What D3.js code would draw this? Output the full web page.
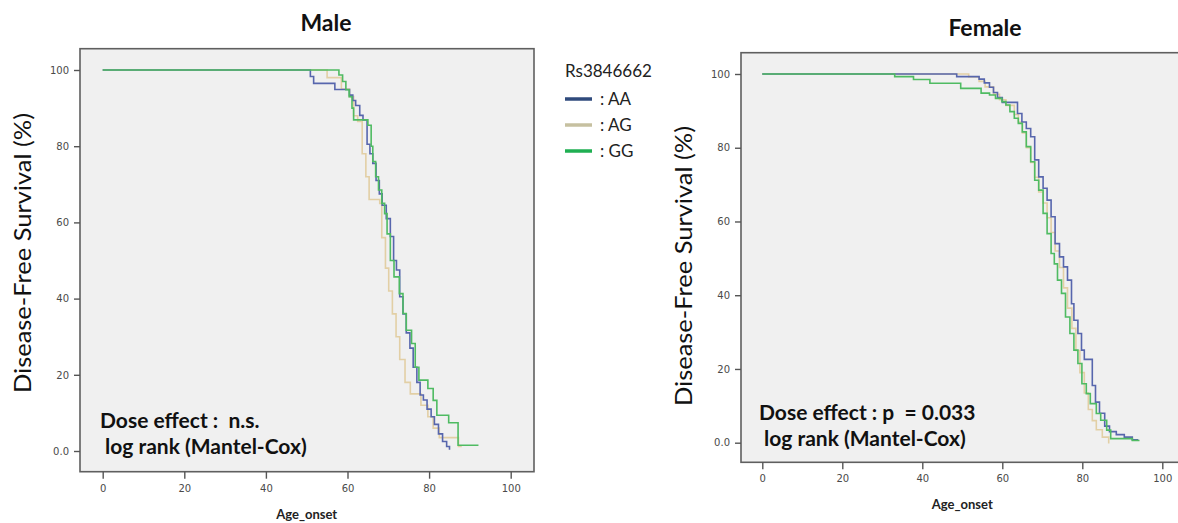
<!DOCTYPE html>
<html>
<head>
<meta charset="utf-8">
<script src="https://cdn.jsdelivr.net/npm/d3@7"></script>
<style>
  body { margin: 0; background: #fff; }
  svg { display: block; font-family: Lato, "Open Sans", sans-serif; }
</style>
</head>
<body>
<svg id="chart" width="1178" height="523"></svg>
<script>
// Kaplan-Meier steps: [age, survival %] (last point = last censored age)
const maleAA = [[0,100],[50.9,98.3],[51.7,96.5],[56.9,94.9],[60.5,93.4],[61.3,92],[62.0,90.7],[63.0,88.1],[63.8,86.9],
  [64.8,80.5],[65.5,78],[66.2,75.5],[67.0,71],[67.8,67.5],[68.5,64.5],[69.5,61],[70.5,56.3],[71.3,50],[72.0,47.5],
  [72.8,40.5],[73.6,36],[74.4,31],[75.3,27],[76.1,22],[77.0,18],[77.8,14.7],[78.6,13.4],[79.5,11],[80.5,9],
  [81.3,7],[82.3,4.5],[83.3,2.5],[84.3,1.2],[85.0,0.3]];
const maleAG = [[0,100],[55.0,98],[58.5,95],[60.5,93],[61.5,88],[62.5,86.5],[63.6,78],[64.5,72],[65.3,66],[67.9,65],
  [68.4,56],[69.3,48],[70.1,42],[71.0,36],[71.9,30],[72.8,24],[74.1,18],[75.4,15],[78.0,12],[79.7,9],[81.0,6],
  [82.5,3.5],[87.2,1.2],[88.0,1.2]];
const maleGG = [[0,100],[57.9,98.7],[58.8,97],[59.6,94.8],[60.4,93],[61.1,90],[61.5,86.9],[65.0,85.5],[65.8,80],
  [66.2,76],[66.9,72],[67.6,68.5],[68.4,65],[69.1,62.3],[69.7,57],[70.5,50],[71.4,45.7],[72.7,41.3],[73.6,36.1],
  [74.4,31.7],[75.7,28.2],[76.6,22],[77.5,18.6],[79.7,16.4],[81.0,13.3],[81.9,9.4],[84.8,7.4],[87.1,1.5],[92.1,1.5]];

const femaleAA = [[0,100],[48.6,99.3],[54.2,98.6],[55.5,97.6],[56.8,96.4],[57.8,95],[58.8,93.6],[60.0,92.3],[63.8,89.3],
  [64.9,87],[66.0,85.2],[67.1,83],[68.1,76.7],[69.1,72.1],[70.2,69],[71.2,65.8],[72.2,61.3],[73.2,54],[74.3,50.4],
  [75.3,47.7],[76.3,44.1],[77.3,37.7],[77.9,33.2],[78.9,29.6],[79.8,25.1],[80.5,22.6],[82.5,15.5],[83.3,11],
  [84.3,8],[85.6,4.5],[86.8,3],[88.5,2.2],[90.5,1.5],[92.5,0.8],[94.0,0.8]];
const femaleAG = [[0,100],[51.6,99.2],[54.2,98],[55.7,96.5],[57.8,94.5],[59.3,93],[60.9,91.5],[63.0,89],[64.0,87],
  [65.0,84],[66.0,80],[67.1,76],[68.1,72],[69.1,68],[70.2,65],[71.2,61],[72.2,57],[73.2,52],[74.3,47.5],[75.3,42],
  [76.3,36.5],[77.4,31],[78.4,25],[79.4,19],[80.5,13.5],[81.5,9],[82.5,6],[83.5,3.5],[85.0,1.5],[86.6,0],[86.8,0]];
const femaleGG = [[0,100],[33.1,99.3],[37.8,98.5],[41.9,97.5],[49.6,96.1],[54.7,94.8],[56.8,94.3],[58.3,93.4],
  [59.9,92.5],[60.9,91.6],[61.9,89.8],[63.0,88],[64.0,86.6],[65.0,84.3],[66.0,80.3],[67.1,76.2],[68.1,71.2],
  [69.1,68.5],[70.2,62.2],[71.2,56.7],[72.2,51.3],[73.0,48.5],[73.8,44.1],[74.8,40.5],[75.8,34.1],[76.9,29.6],
  [77.9,25.1],[78.9,21.5],[79.9,16],[81.0,13.3],[82.0,10.6],[83.5,7.9],[84.6,6.1],[86.1,3.4],[87.1,1.1],
  [92.5,0.6],[94.3,0.6]];

const genotypes = ["AA", "AG", "GG"];
const lineColors = ["#5766ad", "#e2cfa5", "#4fbb62"];
const legendColors = ["#2f4a7c", "#c6c0a0", "#1faf52"];
const xTicks = [0, 20, 40, 60, 80, 100];
const yTicks = [0, 20, 40, 60, 80, 100];
const yTickLabels = ["0.0", "20", "40", "60", "80", "100"];

const svg = d3.select("#chart");

const panels = [
  { title: "Male", series: [maleAA, maleAG, maleGG],
    xr: [102.7, 510.7], yr: [451, 70], box: [80, 48.7, 534, 471.7],
    titleX: 326, titleY: 31, ylabX: 22, ylabY: 253, xlabY: 519,
    note: ["Dose effect :  n.s.", " log rank (Mantel-Cox)"], noteX: 100, noteY: 428 },
  { title: "Female", series: [femaleAA, femaleAG, femaleGG],
    xr: [762.3, 1162.3], yr: [442.7, 74], box: [741, 52.7, 1186, 462.3],
    titleX: 985, titleY: 36, ylabX: 683, ylabY: 266, xlabY: 509,
    note: ["Dose effect : p  = 0.033", " log rank (Mantel-Cox)"], noteX: 759, noteY: 420 }
];

panels.forEach(p => {
  const x = d3.scaleLinear().domain([0, 100]).range(p.xr);
  const y = d3.scaleLinear().domain([0, 100]).range(p.yr);
  const g = svg.append("g");

  g.append("rect")
    .attr("x", p.box[0]).attr("y", p.box[1])
    .attr("width", p.box[2] - p.box[0]).attr("height", p.box[3] - p.box[1])
    .attr("fill", "#f0f0f0").attr("stroke", "#5f5f5f").attr("stroke-width", 1.6);

  const xa = g.append("g")
    .attr("transform", `translate(0,${p.box[3]})`)
    .call(d3.axisBottom(x).tickValues(xTicks).tickSize(7).tickSizeOuter(0).tickPadding(6));
  const ya = g.append("g")
    .attr("transform", `translate(${p.box[0]},0)`)
    .call(d3.axisLeft(y).tickValues(yTicks).tickSize(6).tickSizeOuter(0).tickPadding(5)
      .tickFormat((d, i) => yTickLabels[i]));
  [xa, ya].forEach(a => {
    a.select(".domain").remove();
    a.selectAll("line").attr("stroke", "#555").attr("stroke-width", 1.4);
    a.selectAll("text").attr("fill", "#4a4a4a").style("font-family", "'DejaVu Sans', sans-serif").style("font-size", "10px");
  });

  const line = d3.line().x(d => x(d[0])).y(d => y(d[1])).curve(d3.curveStepAfter);
  [1, 0, 2].forEach(i => {
    g.append("path")
      .attr("d", line(p.series[i]))
      .attr("fill", "none")
      .attr("stroke", lineColors[i])
      .attr("stroke-width", 1.6);
  });

  g.append("text").attr("x", p.titleX).attr("y", p.titleY)
    .attr("text-anchor", "middle").attr("font-weight", "bold").attr("font-size", 23)
    .attr("fill", "#111").text(p.title);

  g.append("text")
    .attr("transform", `translate(${p.ylabX},${p.ylabY}) rotate(-90)`)
    .attr("text-anchor", "middle").attr("dominant-baseline", "central")
    .attr("font-size", 23).attr("fill", "#111")
    .attr("textLength", 280).attr("lengthAdjust", "spacingAndGlyphs")
    .text("Disease-Free Survival (%)");

  g.append("text").attr("x", (p.xr[0] + p.xr[1]) / 2).attr("y", p.xlabY)
    .attr("text-anchor", "middle").attr("font-weight", "bold").attr("font-size", 13)
    .attr("fill", "#222").text("Age_onset");

  g.append("text").attr("x", p.noteX).attr("y", p.noteY)
    .attr("font-weight", "bold").attr("font-size", 21).attr("fill", "#111")
    .style("white-space", "pre")
    .selectAll("tspan").data(p.note).enter().append("tspan")
    .attr("x", p.noteX).attr("dy", (d, i) => i === 0 ? 0 : 26)
    .text(d => d);
});

// legend
const legend = svg.append("g");
legend.append("text").attr("x", 565).attr("y", 77)
  .attr("font-size", 17).attr("fill", "#222").text("Rs3846662");
genotypes.forEach((gt, i) => {
  const ly = 99 + i * 26;
  legend.append("line").attr("x1", 565).attr("x2", 592).attr("y1", ly).attr("y2", ly)
    .attr("stroke", legendColors[i]).attr("stroke-width", 3.5);
  legend.append("text").attr("x", 600).attr("y", ly + 6)
    .attr("font-size", 17).attr("fill", "#222").text(": " + gt);
});
</script>
</body>
</html>
